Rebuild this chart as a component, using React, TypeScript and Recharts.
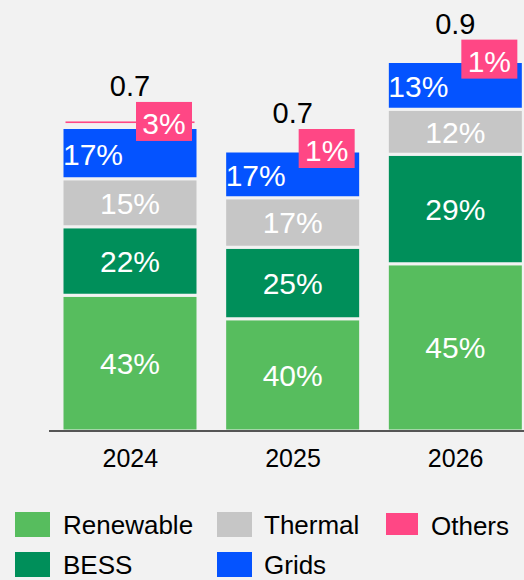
import React from 'react';
import { BarChart, Bar, XAxis, YAxis, LabelList } from 'recharts';

const years = ['2024', '2025', '2026'];
const renewable = [0.331, 0.274, 0.408];
const bess = [0.167, 0.174, 0.267];
const thermal = [0.117, 0.121, 0.11];
const grids = [0.125, 0.114, 0.116];
const others = [0.015, 0.006, 0.006];

const renewablePct = ['43%', '40%', '45%'];
const bessPct = ['22%', '25%', '29%'];
const thermalPct = ['15%', '17%', '12%'];
const gridsPct = ['17%', '17%', '13%'];
const othersPct = ['3%', '1%', '1%'];
const totals = ['0.7', '0.7', '0.9'];

const COLORS = {
  renewable: '#57BD5E',
  bess: '#008F5A',
  thermal: '#C6C6C6',
  grids: '#0453FF',
  others: '#FF4785',
};

const BG = '#f2f2f2';
const FONT = '"Liberation Sans", Arial, sans-serif';

const data = years.map((year, i) => ({
  year,
  renewable: renewable[i],
  bess: bess[i],
  thermal: thermal[i],
  grids: grids[i],
  others: others[i],
  renewablePct: renewablePct[i],
  bessPct: bessPct[i],
  thermalPct: thermalPct[i],
  gridsPct: gridsPct[i],
  othersPct: othersPct[i],
  total: totals[i],
}));

// rect of the segment a label belongs to
const box = (p: any) => {
  const vb = p.viewBox || {};
  return {
    x: vb.x ?? p.x,
    y: vb.y ?? p.y,
    width: vb.width ?? p.width,
    height: vb.height ?? p.height,
  };
};

const CenterLabel = (p: any) => {
  const { x, y, width, height } = box(p);
  return (
    <text
      x={x + width / 2}
      y={y + height / 2 + 30 * 0.36}
      textAnchor="middle"
      fill="#fff"
      fontSize={30}
      fontFamily={FONT}
    >
      {p.value}
    </text>
  );
};

const LeftLabel = (p: any) => {
  const { x, y, height } = box(p);
  return (
    <text x={x + 1} y={y + height / 2 + 30 * 0.36 + 1} textAnchor="start" fill="#fff" fontSize={30} fontFamily={FONT}>
      {p.value}
    </text>
  );
};

const OthersBadge = (p: any) => {
  const { x, y, width } = box(p);
  const cx = x + width / 2 + 34;
  const w = 56;
  const h = 39;
  return (
    <g>
      <rect x={cx - w / 2} y={y - h / 2} width={w} height={h} fill={COLORS.others} />
      <text x={cx} y={y + 2 + 30 * 0.36} textAnchor="middle" fill="#fff" fontSize={30} fontFamily={FONT}>
        {p.value}
      </text>
    </g>
  );
};

const TotalLabel = (p: any) => {
  const { x, y, width } = box(p);
  return (
    <text x={x + width / 2} y={y - 36 + 29 * 0.36} textAnchor="middle" fill="#000" fontSize={29} fontFamily={FONT}>
      {p.value}
    </text>
  );
};

// the small "others" slice only shows as a thin line on top
const OthersShape = (p: any) => {
  const { x, y, width, height, fill } = p;
  if (!height || height < 5) return <g />;
  return <rect x={x + 3.5} y={y} width={width - 7} height={1.6} fill={fill} />;
};

const legendItems = [
  { name: 'Renewable', color: COLORS.renewable, x: 15, y: 512, w: 35, h: 25, tx: 63 },
  { name: 'Thermal', color: COLORS.thermal, x: 217, y: 512, w: 35, h: 25, tx: 264 },
  { name: 'Others', color: COLORS.others, x: 386, y: 513, w: 32, h: 22, tx: 431 },
  { name: 'BESS', color: COLORS.bess, x: 15, y: 552, w: 35, h: 25, tx: 63 },
  { name: 'Grids', color: COLORS.grids, x: 217, y: 552, w: 35, h: 25, tx: 264 },
];

export default function App() {
  return (
    <div
      style={{
        position: 'absolute',
        left: 0,
        top: 0,
        width: 524,
        height: 580,
        overflow: 'hidden',
        background: BG,
        fontFamily: FONT,
      }}
    >
      <BarChart
        width={540}
        height={580}
        data={data}
        margin={{ top: 21, right: 3, left: 49, bottom: 119 }}
        barSize={136}
      >
        <XAxis
          dataKey="year"
          axisLine={{ stroke: '#222', strokeWidth: 1.5 }}
          tickLine={false}
          height={30}
          tick={{ fill: '#000', fontSize: 25, fontFamily: FONT }}
          dy={10}
        />
        <YAxis hide domain={[0, 1]} />
        <Bar dataKey="renewable" stackId="a" fill={COLORS.renewable} stroke={BG} strokeWidth={3} isAnimationActive={false}>
          <LabelList dataKey="renewablePct" content={CenterLabel} />
        </Bar>
        <Bar dataKey="bess" stackId="a" fill={COLORS.bess} stroke={BG} strokeWidth={3} isAnimationActive={false}>
          <LabelList dataKey="bessPct" content={CenterLabel} />
        </Bar>
        <Bar dataKey="thermal" stackId="a" fill={COLORS.thermal} stroke={BG} strokeWidth={3} isAnimationActive={false}>
          <LabelList dataKey="thermalPct" content={CenterLabel} />
        </Bar>
        <Bar dataKey="grids" stackId="a" fill={COLORS.grids} stroke={BG} strokeWidth={3} isAnimationActive={false}>
          <LabelList dataKey="gridsPct" content={LeftLabel} />
        </Bar>
        <Bar dataKey="others" stackId="a" fill={COLORS.others} shape={OthersShape} isAnimationActive={false}>
          <LabelList dataKey="othersPct" content={OthersBadge} />
          <LabelList dataKey="total" content={TotalLabel} />
        </Bar>
      </BarChart>
      {legendItems.map((it) => (
        <React.Fragment key={it.name}>
          <div
            style={{
              position: 'absolute',
              left: it.x,
              top: it.y,
              width: it.w,
              height: it.h,
              background: it.color,
            }}
          />
          <div
            style={{
              position: 'absolute',
              left: it.tx,
              top: it.y + 2,
              fontSize: 26,
              lineHeight: '22px',
              height: 22,
              color: '#000',
              whiteSpace: 'nowrap',
            }}
          >
            {it.name}
          </div>
        </React.Fragment>
      ))}
    </div>
  );
}
